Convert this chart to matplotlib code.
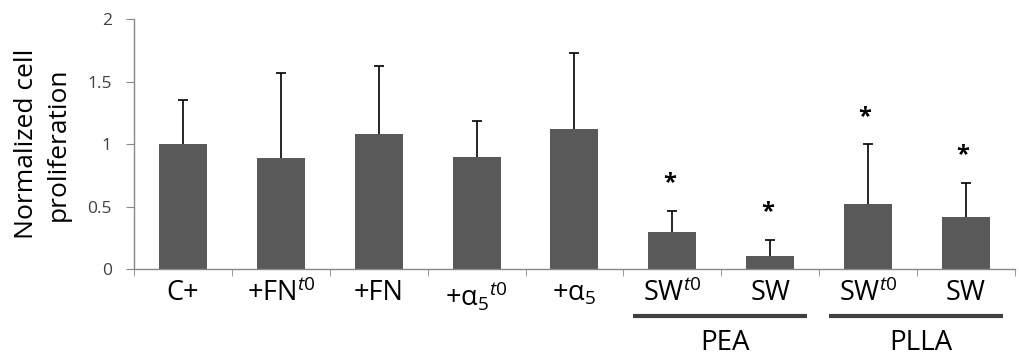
import matplotlib
matplotlib.use("Agg")
import matplotlib.pyplot as plt
import matplotlib.transforms as mtransforms
import numpy as np

plt.rcParams['font.family'] = ['Open Sans', 'DejaVu Sans']
plt.rcParams['mathtext.fontset'] = 'custom'
plt.rcParams['mathtext.rm'] = 'Open Sans'
plt.rcParams['mathtext.it'] = 'Open Sans:italic'

# data
labels = ['C+', r'+FN$^{\mathit{t0}}$', '+FN', r'+α$_5$$^{\mathit{t0}}$', r'+α$_5$',
          r'SW$^{\mathit{t0}}$', 'SW', r'SW$^{\mathit{t0}}$', 'SW']
values = [1.00, 0.89, 1.085, 0.90, 1.125, 0.295, 0.11, 0.52, 0.418]
err_up = [0.35, 0.675, 0.54, 0.285, 0.60, 0.173, 0.125, 0.478, 0.275]
significant = [False, False, False, False, False, True, True, True, True]
groups = ['PEA', 'PLLA']
group_members = [[5, 6], [7, 8]]

x = np.arange(len(labels))

fig = plt.figure(figsize=(10.19, 3.55), dpi=100)
ax = fig.add_axes([0.1315, 0.2414, 0.8645, 0.7051])

ax.bar(x, values, width=0.49, color='#595959', zorder=2)
eb = ax.errorbar(x, values, yerr=[np.zeros(len(values)), err_up], fmt='none',
                 ecolor='black', elinewidth=1.2, capsize=3.5, capthick=1.2, zorder=3)
eb[1][0].set_visible(False)  # no cap at the bar top

for xi, v, e, s in zip(x, values, err_up, significant):
    if s:
        ax.text(xi - 0.03, v + e + 0.22, '*', ha='center', va='center',
                fontsize=17, fontweight='bold', color='black')

ax.set_xlim(-0.5, len(labels) - 0.5)
ax.set_ylim(0, 2)
ax.set_yticks([0, 0.5, 1, 1.5, 2])
ax.set_yticklabels(['0', '0.5', '1', '1.5', '2'])
ax.set_xticks(x)
ax.set_xticklabels(labels, fontsize=19.5)
ax.set_xticks(np.arange(len(labels) + 1) - 0.5, minor=True)
ax.tick_params(axis='x', which='major', length=0, pad=7)
ax.tick_params(axis='x', which='minor', length=5, color='#888888', direction='out')
ax.tick_params(axis='y', length=6, color='#888888', labelsize=12.5,
               labelcolor='#404040', pad=10)

for side in ['top', 'right']:
    ax.spines[side].set_visible(False)
for side in ['left', 'bottom']:
    ax.spines[side].set_color('#888888')
    ax.spines[side].set_linewidth(1)

ax.set_ylabel('Normalized cell\nproliferation', fontsize=19, linespacing=1.35)
ax.yaxis.set_label_coords(-0.072, 0.5)

trans = mtransforms.blended_transform_factory(ax.transData, ax.transAxes)
for name, members in zip(groups, group_members):
    x0 = members[0] - 0.4
    x1 = members[-1] + 0.38
    ax.plot([x0, x1], [-0.187, -0.187], transform=trans, color='#404040',
            lw=3, clip_on=False, solid_capstyle='butt')
    ax.text((members[0] + members[-1]) / 2 + 0.04, -0.294, name, transform=trans,
            ha='center', va='center', fontsize=20)

fig.savefig('out.png', dpi=100)
